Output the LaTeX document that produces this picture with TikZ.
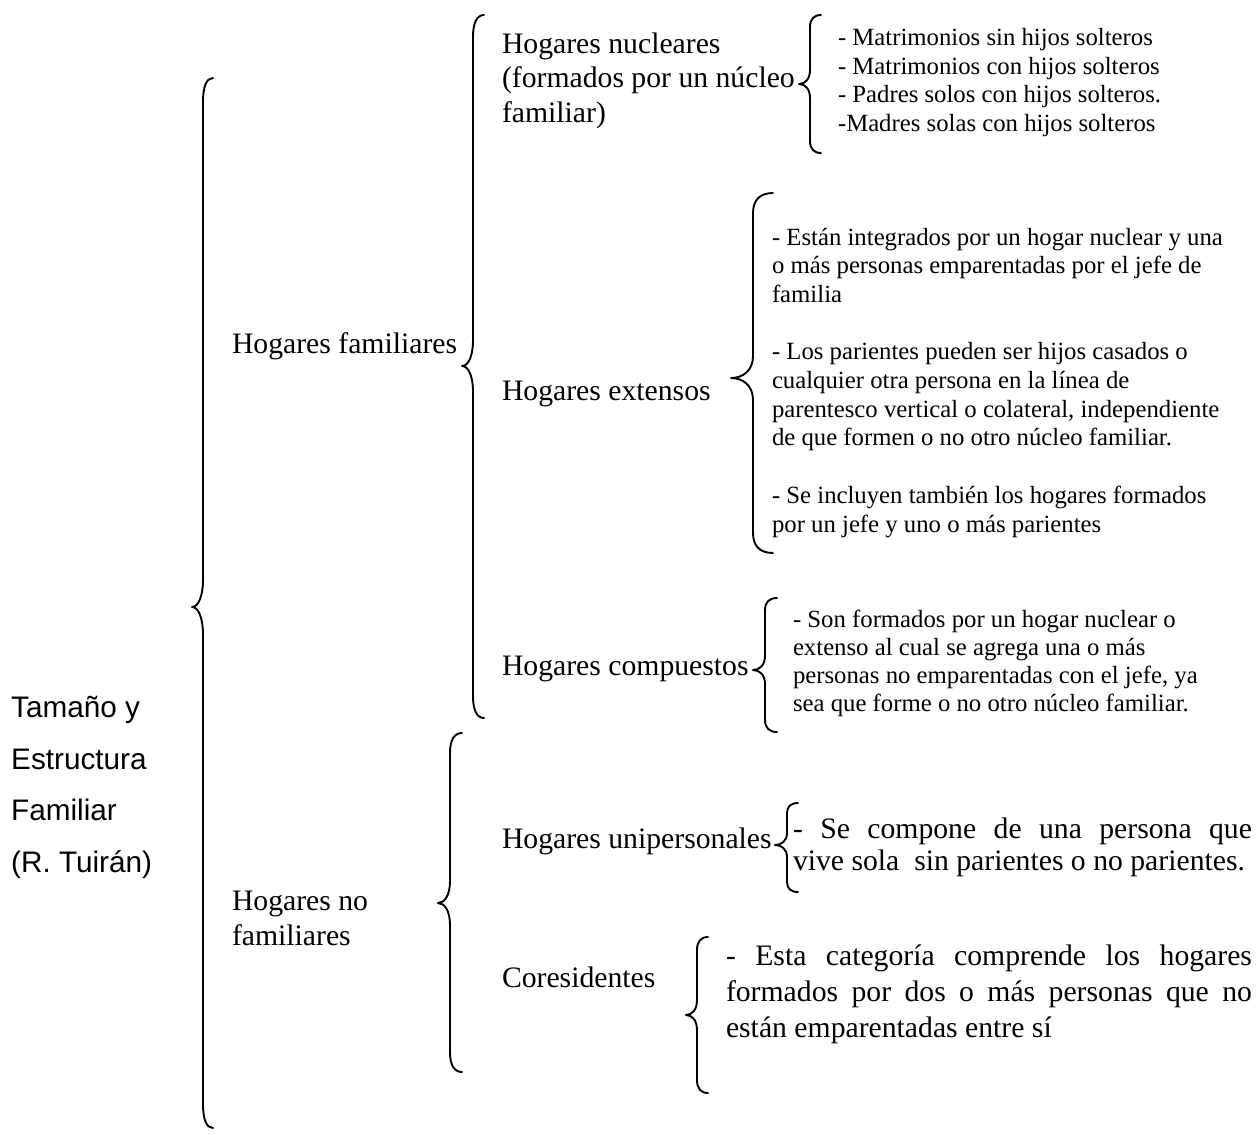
\documentclass[tikz,border=0pt]{standalone}
\usepackage{fontspec}
\setmainfont{Liberation Serif}
\newfontfamily\arialf{Liberation Sans}
\newcommand\drawbrace[8]{% xv, ytop, ytip, ybot, xend, xtip, rend, rtip
  \draw[bracestyle] (#5,#2) .. controls ({#1+0.35*(#5-#1)},#2) and (#1,{#2+0.35*#7}) .. (#1,{#2+#7})
    -- (#1,{#3-#8}) .. controls (#1,{#3-0.35*#8}) and ({#6+0.55*(#1-#6)},#3) .. (#6,#3)
    .. controls ({#6+0.55*(#1-#6)},#3) and (#1,{#3+0.35*#8}) .. (#1,{#3+#8})
    -- (#1,{#4-#7}) .. controls (#1,{#4-0.35*#7}) and ({#1+0.35*(#5-#1)},#4) .. (#5,#4);}
\tikzset{
  bracestyle/.style={line width=1.9pt, line cap=round, line join=round},
  lbl/.style={anchor=base west, inner sep=0pt, outer sep=0pt, align=left,
    font=\fontsize{29.7}{34.5}\selectfont},
  det/.style={anchor=base west, inner sep=0pt, outer sep=0pt, align=left,
    font=\fontsize{24.75}{28.4}\selectfont},
}
\begin{document}
\begin{tikzpicture}[x=1pt,y=-1pt]
\useasboundingbox[fill=white] (0,0) rectangle (1259,1135);

% (multi-line nodes are placed by the baseline of their last line)
% Title
\node[anchor=base west, inner sep=0pt, align=left,
  font=\arialf\fontsize{29.7}{51.5}\selectfont] (title) at (11,872)
  {Tamaño y\\Estructura\\Familiar\\(R. Tuirán)};

% Level 1 brace
\drawbrace{203}{78}{607}{1128}{213}{192}{24}{28}
\node[lbl] (fam) at (232,353) {Hogares familiares};
\node[lbl, font=\fontsize{29.7}{35}\selectfont] (nofam) at (232,945) {Hogares no\\familiares};

% Familiares brace
\drawbrace{473}{15}{366}{718}{484}{462}{22}{26}
\node[lbl] (nuc) at (502,122) {Hogares nucleares\\(formados por un núcleo\\familiar)};
\node[lbl] (ext) at (502,400) {Hogares extensos};
\node[lbl] (comp) at (502,675) {Hogares compuestos};

% Nucleares brace & list
\drawbrace{810}{15}{84}{153}{821}{799}{12}{14}
\node[det] (nuclist) at (838,131) {- Matrimonios sin hijos solteros\\- Matrimonios con hijos solteros\\- Padres solos con hijos solteros.\\-Madres solas con hijos solteros};

% Extensos brace & text
\drawbrace{753}{193}{378}{553}{773}{731}{20}{22}
\node[det, font=\fontsize{24.75}{28.7}\selectfont] (extlist) at (772,532) {- Están integrados por un hogar nuclear y una\\o más personas emparentadas por el jefe de\\familia\\[28.7pt]- Los parientes pueden ser hijos casados o\\cualquier otra persona en la línea de\\parentesco vertical o colateral, independiente\\de que formen o no otro núcleo familiar.\\[28.7pt]- Se incluyen también los hogares formados\\por un jefe y uno o más parientes};

% Compuestos brace & text
\drawbrace{765}{598}{670}{732}{777}{753}{12}{14}
\node[det, font=\fontsize{24.75}{27.8}\selectfont] (complist) at (793,711) {- Son formados por un hogar nuclear o\\extenso al cual se agrega una o más\\personas no emparentadas con el jefe, ya\\sea que forme o no otro núcleo familiar.};

% No familiares brace
\drawbrace{450}{733}{903}{1072}{462}{438}{20}{22}
\node[lbl] (uni) at (502,848) {Hogares unipersonales};
\node[lbl] (cores) at (502,987) {Coresidentes};

% Unipersonales brace & text
\drawbrace{787}{803}{845}{892}{798}{775}{10}{12}
\node[lbl, font=\fontsize{29.7}{32}\selectfont] (unitext) at (793,870)
  {\makebox[459pt][s]{- Se compone de una persona que}\\vive sola\ \ sin parientes o no parientes.};

% Coresidentes brace & text
\drawbrace{697}{937}{1015}{1093}{708}{686}{13}{15}
\node[lbl, font=\fontsize{29.7}{36}\selectfont] (corestext) at (726,1037)
  {\makebox[526pt][s]{- Esta categoría comprende los hogares}\\\makebox[526pt][s]{formados por dos o más personas que no}\\están emparentadas entre sí};
\end{tikzpicture}
\end{document}
